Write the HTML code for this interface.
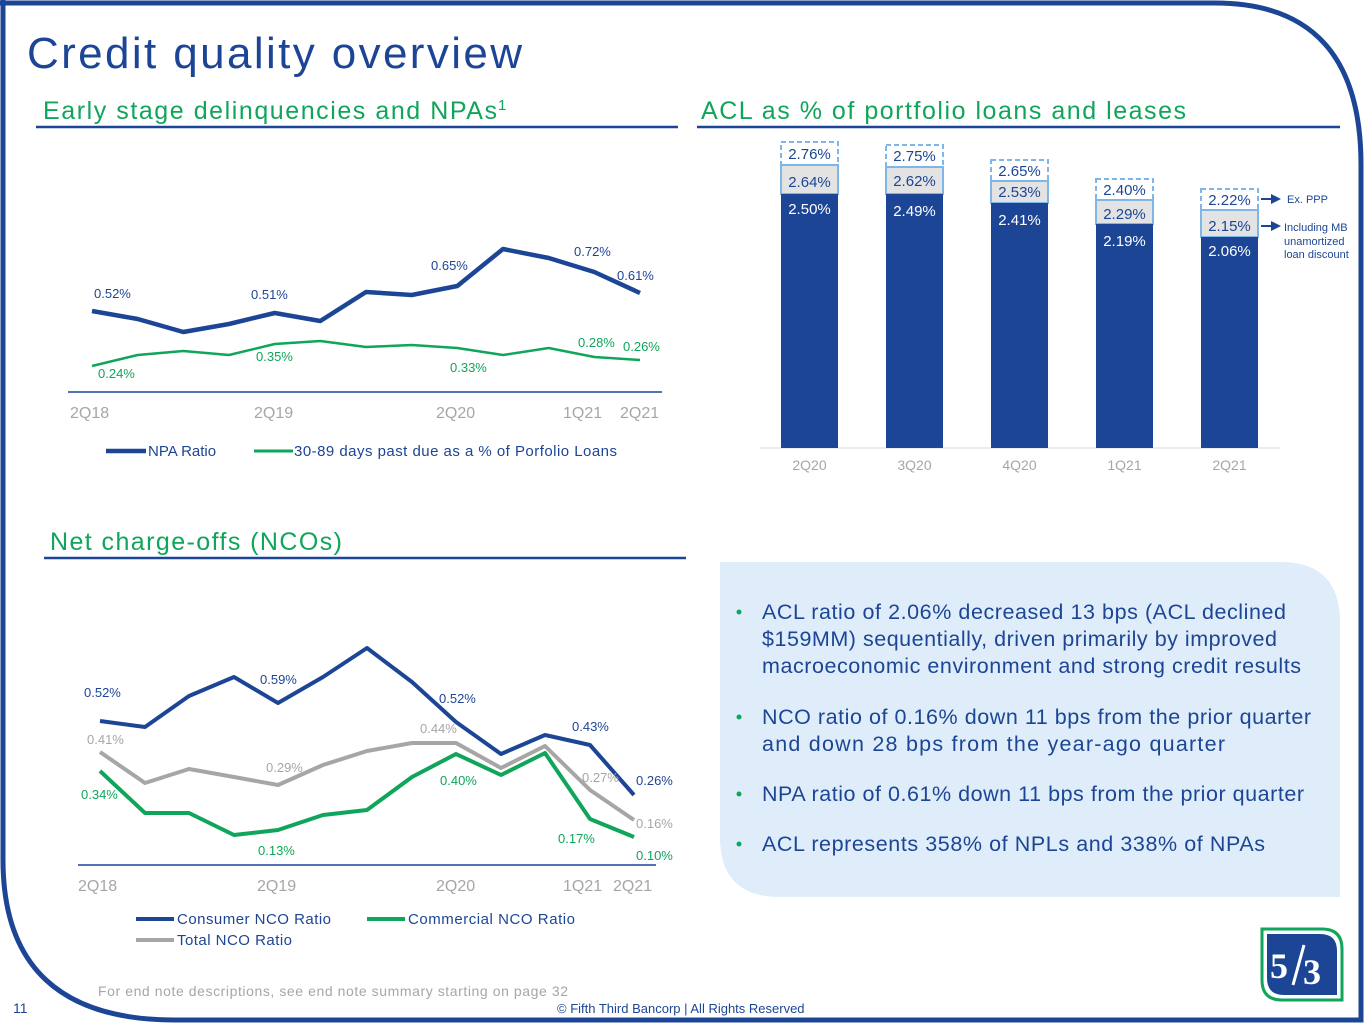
<!DOCTYPE html>
<html><head><meta charset="utf-8"><style>
body{margin:0;background:#fff}
svg{display:block;font-family:"Liberation Sans",sans-serif}
</style></head><body>
<svg width="1365" height="1024" viewBox="0 0 1365 1024" xmlns="http://www.w3.org/2000/svg">
<!-- frame -->
<path d="M0,3 H1215 Q1361,3 1361,165 V1020 H175 Q3,1020 3,860 V0" fill="none" stroke="#1c4595" stroke-width="5"/>
<text x="27" y="68" font-size="44" fill="#1c4595" textLength="495" lengthAdjust="spacing">Credit quality overview</text>

<!-- section titles -->
<text x="43" y="119" font-size="25" fill="#0fa55a" textLength="454" lengthAdjust="spacing">Early stage delinquencies and NPAs</text>
<text x="498" y="110" font-size="15" fill="#0fa55a">1</text>
<line x1="36" y1="127" x2="678" y2="127" stroke="#1c4595" stroke-width="2.5"/>
<text x="701" y="119" font-size="25" fill="#0fa55a" textLength="485" lengthAdjust="spacing">ACL as % of portfolio loans and leases</text>
<line x1="697" y1="127" x2="1340" y2="127" stroke="#1c4595" stroke-width="2.5"/>
<text x="50" y="550" font-size="25" fill="#0fa55a" textLength="292" lengthAdjust="spacing">Net charge-offs (NCOs)</text>
<line x1="44" y1="558" x2="686" y2="558" stroke="#1c4595" stroke-width="2.5"/>

<!-- chart 1 -->
<line x1="68" y1="392" x2="662" y2="392" stroke="#1c4595" stroke-width="1.5"/>
<polyline fill="none" stroke="#1c4595" stroke-width="4.5" stroke-linejoin="round" points="92,311 137.7,319 183.3,332 229,324 274.7,313 320.3,321 366,292 411.7,295 457.3,286 503,249 548.7,258 594.3,272 640,293"/>
<polyline fill="none" stroke="#0fa55a" stroke-width="2.5" stroke-linejoin="round" points="92,366 137.7,355 183.3,351 229,355 274.7,344 320.3,341 366,347 411.7,345 457.3,348 503,355 548.7,348 594.3,357 640,360"/>
<g font-size="13" fill="#1c4595">
<text x="94" y="298">0.52%</text><text x="251" y="299">0.51%</text><text x="431" y="270">0.65%</text><text x="574" y="256">0.72%</text><text x="617" y="280">0.61%</text>
</g>
<g font-size="13" fill="#0fa55a">
<text x="98" y="378">0.24%</text><text x="256" y="361">0.35%</text><text x="450" y="372">0.33%</text><text x="578" y="347">0.28%</text><text x="623" y="351">0.26%</text>
</g>
<g font-size="16" fill="#a6a6a6">
<text x="70" y="418">2Q18</text><text x="254" y="418">2Q19</text><text x="436" y="418">2Q20</text><text x="563" y="418">1Q21</text><text x="620" y="418">2Q21</text>
</g>
<line x1="106" y1="451" x2="146" y2="451" stroke="#1c4595" stroke-width="4.5"/>
<text x="148" y="456" font-size="15" fill="#1c4595">NPA Ratio</text>
<line x1="254" y1="451" x2="293" y2="451" stroke="#0fa55a" stroke-width="3"/>
<text x="294" y="456" font-size="15" fill="#1c4595" textLength="323" lengthAdjust="spacing">30-89 days past due as a % of Porfolio Loans</text>

<!-- bars -->
<line x1="760" y1="448" x2="1280" y2="448" stroke="#d9d9d9" stroke-width="1"/>
<g stroke="#7fb6e8" stroke-width="2">
<rect x="781" y="142" width="57" height="23" fill="#fff" stroke-dasharray="5,3"/>
<rect x="781" y="165" width="57" height="29" fill="#e3e3e3"/>
<rect x="886" y="145" width="57" height="22" fill="#fff" stroke-dasharray="5,3"/>
<rect x="886" y="167" width="57" height="27" fill="#e3e3e3"/>
<rect x="991" y="160" width="57" height="21" fill="#fff" stroke-dasharray="5,3"/>
<rect x="991" y="181" width="57" height="22" fill="#e3e3e3"/>
<rect x="1096" y="179" width="57" height="21" fill="#fff" stroke-dasharray="5,3"/>
<rect x="1096" y="200" width="57" height="24" fill="#e3e3e3"/>
<rect x="1201" y="189" width="57" height="21" fill="#fff" stroke-dasharray="5,3"/>
<rect x="1201" y="210" width="57" height="27" fill="#e3e3e3"/>
</g>
<g fill="#1c4595">
<rect x="781" y="194" width="57" height="254"/><rect x="886" y="194" width="57" height="254"/><rect x="991" y="203" width="57" height="245"/><rect x="1096" y="224" width="57" height="224"/><rect x="1201" y="237" width="57" height="211"/>
</g>
<g font-size="15" fill="#1c4595" text-anchor="middle">
<text x="809.5" y="159">2.76%</text><text x="809.5" y="187">2.64%</text>
<text x="914.5" y="161">2.75%</text><text x="914.5" y="186">2.62%</text>
<text x="1019.5" y="176">2.65%</text><text x="1019.5" y="197">2.53%</text>
<text x="1124.5" y="195">2.40%</text><text x="1124.5" y="219">2.29%</text>
<text x="1229.5" y="205">2.22%</text><text x="1229.5" y="231">2.15%</text>
</g>
<g font-size="15" fill="#fff" text-anchor="middle">
<text x="809.5" y="214">2.50%</text><text x="914.5" y="216">2.49%</text><text x="1019.5" y="225">2.41%</text><text x="1124.5" y="246">2.19%</text><text x="1229.5" y="256">2.06%</text>
</g>
<g font-size="14" fill="#a6a6a6" text-anchor="middle">
<text x="809.5" y="470">2Q20</text><text x="914.5" y="470">3Q20</text><text x="1019.5" y="470">4Q20</text><text x="1124.5" y="470">1Q21</text><text x="1229.5" y="470">2Q21</text>
</g>
<line x1="1261" y1="199" x2="1272" y2="199" stroke="#1c4595" stroke-width="2"/><polygon points="1271,194 1281,199 1271,204" fill="#1c4595"/>
<line x1="1261" y1="226" x2="1272" y2="226" stroke="#1c4595" stroke-width="2"/><polygon points="1271,221 1281,226 1271,231" fill="#1c4595"/>
<g font-size="11" fill="#1c4595">
<text x="1287" y="203">Ex. PPP</text>
<text x="1284" y="231">Including MB</text><text x="1284" y="245">unamortized</text><text x="1284" y="258">loan discount</text>
</g>

<!-- NCO chart -->
<line x1="78" y1="865" x2="656" y2="865" stroke="#1c4595" stroke-width="1.5"/>
<polyline fill="none" stroke="#a6a6a6" stroke-width="4" stroke-linejoin="round" points="100,752 145,783 189,769 234,777 278,785 323,765 367,751 412,743 456,743 501,768 545,746 590,790 634,820"/>
<polyline fill="none" stroke="#0fa55a" stroke-width="4" stroke-linejoin="round" points="100,771 145,813 189,813 234,835 278,830 323,815 367,810 412,777 456,754 501,775 545,753 590,819 634,837"/>
<polyline fill="none" stroke="#1c4595" stroke-width="4" stroke-linejoin="round" points="100,721 145,727 189,696 234,677 278,703 323,677 367,648 412,682 456,722 501,754 545,735 590,745 634,795"/>
<g font-size="13" fill="#1c4595">
<text x="84" y="697">0.52%</text><text x="260" y="684">0.59%</text><text x="439" y="703">0.52%</text><text x="572" y="731">0.43%</text><text x="636" y="785">0.26%</text>
</g>
<g font-size="13" fill="#a6a6a6">
<text x="87" y="744">0.41%</text><text x="266" y="772">0.29%</text><text x="420" y="733">0.44%</text><text x="582" y="782">0.27%</text><text x="636" y="828">0.16%</text>
</g>
<g font-size="13" fill="#0fa55a">
<text x="81" y="799">0.34%</text><text x="258" y="855">0.13%</text><text x="440" y="785">0.40%</text><text x="558" y="843">0.17%</text><text x="636" y="860">0.10%</text>
</g>
<g font-size="16" fill="#a6a6a6">
<text x="78" y="891">2Q18</text><text x="257" y="891">2Q19</text><text x="436" y="891">2Q20</text><text x="563" y="891">1Q21</text><text x="613" y="891">2Q21</text>
</g>
<line x1="136" y1="919" x2="174" y2="919" stroke="#1c4595" stroke-width="4"/>
<text x="177" y="924" font-size="15" fill="#1c4595" textLength="154" lengthAdjust="spacing">Consumer NCO Ratio</text>
<line x1="367" y1="919" x2="405" y2="919" stroke="#0fa55a" stroke-width="4"/>
<text x="408" y="924" font-size="15" fill="#1c4595" textLength="167" lengthAdjust="spacing">Commercial NCO Ratio</text>
<line x1="136" y1="940" x2="174" y2="940" stroke="#a6a6a6" stroke-width="4"/>
<text x="177" y="945" font-size="15" fill="#1c4595" textLength="115" lengthAdjust="spacing">Total NCO Ratio</text>

<!-- bullet box -->
<path d="M720,562 H1280 Q1340,562 1340,622 V897 H780 Q720,897 720,837 Z" fill="#deedf9"/>
<g font-size="21.5" fill="#1c4595" lengthAdjust="spacing">
<text x="762" y="619" textLength="524">ACL ratio of 2.06% decreased 13 bps (ACL declined</text>
<text x="762" y="646" textLength="515">$159MM) sequentially, driven primarily by improved</text>
<text x="762" y="673" textLength="539">macroeconomic environment and strong credit results</text>
<text x="762" y="724" textLength="549">NCO ratio of 0.16% down 11 bps from the prior quarter</text>
<text x="762" y="751" textLength="463">and down 28 bps from the year-ago quarter</text>
<text x="762" y="801" textLength="542">NPA ratio of 0.61% down 11 bps from the prior quarter</text>
<text x="762" y="851" textLength="503">ACL represents 358% of NPLs and 338% of NPAs</text>
</g>
<g fill="#0fa55a"><circle cx="739" cy="612" r="2.5"/><circle cx="739" cy="717" r="2.5"/><circle cx="739" cy="794" r="2.5"/><circle cx="739" cy="844" r="2.5"/></g>

<!-- logo -->
<path d="M1262,929 H1322 Q1342,929 1342,949 V1000 H1282 Q1262,1000 1262,980 Z" fill="#fff" stroke="#0fa55a" stroke-width="3"/>
<path d="M1267,934 H1320 Q1337,934 1337,951 V995 H1284 Q1267,995 1267,978 Z" fill="#1c4595"/>
<text x="1270" y="978" font-size="36" font-weight="bold" fill="#fff" font-family="Liberation Serif,serif">5</text>
<line x1="1304" y1="945" x2="1293" y2="985" stroke="#fff" stroke-width="3"/>
<text x="1303" y="984" font-size="36" font-weight="bold" fill="#fff" font-family="Liberation Serif,serif">3</text>

<!-- footer -->
<text x="98" y="996" font-size="14" fill="#a6a6a6" textLength="470" lengthAdjust="spacing">For end note descriptions, see end note summary starting on page 32</text>
<text x="13" y="1013" font-size="14" fill="#1c4595">11</text>
<text x="557" y="1013" font-size="13" fill="#1c4595">© Fifth Third Bancorp | All Rights Reserved</text>
</svg>
</body></html>
